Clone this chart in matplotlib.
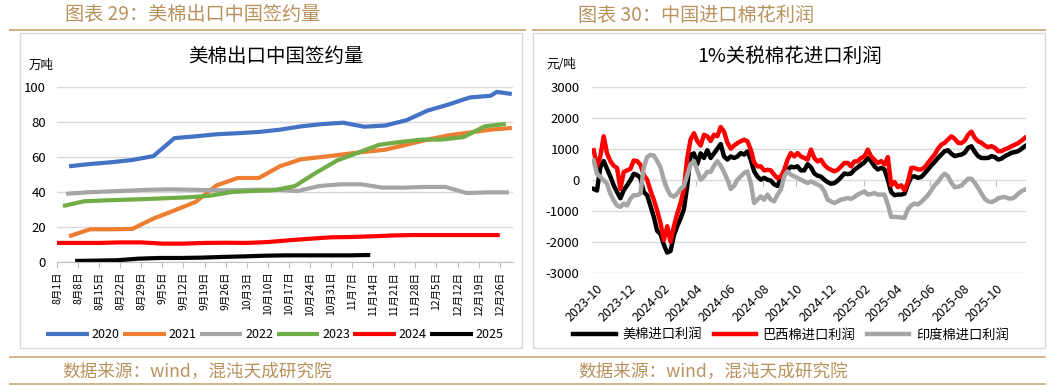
"""
Two report panels: US cotton export sales to China (weekly, by season)
and 1%-tariff cotton import profit (US / Brazil / India).
Writes out.png.
"""

import matplotlib
matplotlib.use("Agg")
import matplotlib.pyplot as plt
from matplotlib.lines import Line2D
from matplotlib.patches import Rectangle
import pandas as pd

plt.rcParams["font.family"] = ["Noto Sans CJK SC", "DejaVu Sans"]
plt.rcParams["axes.unicode_minus"] = False

W, H = 1052, 386
GOLD = "#b8925c"
GOLD_LINE = "#c9a877"
GRID = "#d9d9d9"

# ---- left panel: 万吨, x = days since 8月1日
WEEK_LABELS = ["8月1日", "8月8日", "8月15日", "8月22日", "8月29日", "9月5日",
               "9月12日", "9月19日", "9月26日", "10月3日", "10月10日", "10月17日",
               "10月24日", "10月31日", "11月7日", "11月14日", "11月21日", "11月28日",
               "12月5日", "12月12日", "12月19日", "12月26日"]
YEARS = ["2020", "2021", "2022", "2023", "2024", "2025"]
YEAR_COLORS = ["#4472c4", "#ed7d31", "#a5a5a5", "#70ad47", "#ff0000", "#000000"]

days_2020 = [4, 11, 18, 25, 32, 39, 46, 53, 60, 67, 74, 81, 88, 95, 102, 109,
             116, 123, 130, 137, 144, 146, 151]
vals_2020 = [54.7, 56, 57, 58.3, 60.5, 70.8, 71.8, 73, 73.6, 74.3, 75.6, 77.5,
             78.8, 79.6, 77.3, 78, 81, 86.5, 90, 94, 95, 97.2, 96]
days_2021 = [4, 11, 18, 25, 32, 39, 46, 53, 60, 67, 74, 81, 88, 95, 102, 109,
             116, 123, 130, 137, 144, 151]
vals_2021 = [14.7, 18.7, 18.7, 18.9, 24.8, 29.5, 34.3, 43.8, 48, 48, 54.7, 58.7,
             60, 61.5, 62.9, 64.2, 67, 69.9, 72.4, 74, 75.6, 76.6]
days_2022 = [3, 10, 17, 24, 31, 38, 45, 52, 59, 66, 73, 80, 87, 94, 101, 108,
             115, 122, 129, 136, 143, 150]
vals_2022 = [39, 39.8, 40.3, 40.8, 41.3, 41.5, 41.3, 41, 41, 41.3, 41.3, 40.6,
             43.4, 44.4, 44.4, 42.5, 42.5, 42.9, 42.9, 39.4, 39.8, 39.8]
days_2023 = [2, 9, 16, 23, 30, 37, 44, 51, 58, 65, 72, 79, 86, 93, 100, 107,
             114, 121, 128, 135, 142, 149]
vals_2023 = [32, 34.7, 35.2, 35.6, 36, 36.5, 37, 37.9, 40, 40.6, 41, 43.4,
             51, 58, 62.5, 67, 68.6, 69.9, 70, 71.4, 77.5, 78.9]
days_2024 = [0, 7, 14, 21, 28, 35, 42, 49, 56, 63, 70, 77, 84, 91, 98, 105,
             112, 119, 126, 133, 140, 147]
vals_2024 = [10.9, 10.9, 10.9, 11.2, 11.2, 10.5, 10.5, 10.9, 11, 10.9, 11.4, 12.4,
             13.3, 14.1, 14.3, 14.7, 15.2, 15.4, 15.4, 15.4, 15.4, 15.4]
days_2025 = [6, 13, 20, 27, 34, 41, 48, 55, 62, 69, 76, 83, 90, 97, 104]
vals_2025 = [0.6, 0.8, 1.0, 1.9, 2.3, 2.3, 2.5, 2.9, 3.2, 3.6, 3.8, 3.8, 3.8,
             3.8, 4.0]

# ---- right panel: 元/吨, samples read every ~6 days
profit_dates = pd.date_range("2023-10-05", "2025-11-30", periods=130)
PROFIT_NAMES = ["美棉进口利润", "巴西棉进口利润", "印度棉进口利润"]
PROFIT_COLORS = ["#000000", "#ff0000", "#a5a5a5"]
us_profit = [-300, -350, 400, 600, 350, 100, -180, -400, -600, -340,
             -180, -20, 190, 150, 50, -400, -500, -850, -1200, -1650,
             -1750, -2100, -2350, -2300, -1800, -1500, -1250, -950, -200, 800,
             850, 500, 850, 700, 950, 700, 850, 1000, 1150, 750,
             650, 750, 700,
             750, 860, 810, 915, 645, 270, 100, 0, 60, 0,
             -30, -150, -200, 50, 250, 320, 420, 400, 430, 300,
             300, 500, 400, 200, 130, 100, 0, -80, -130, -110,
             -30, 80, 200, 180, 200, 320, 400, 480, 560, 700,
             600, 430, 330, 380,
             330, 0, -400, -500, -480, -480, -450, -150, 90, 110,
             60, 90, 200, 330, 460, 570, 700, 810, 920, 950,
             840, 760, 790, 810, 870, 1030, 1080, 900, 760, 700,
             700, 700, 760, 730, 650, 680, 760, 810, 870, 890,
             920, 1000, 1080]
brazil_profit = [950, 450, 750, 1400, 850, 600, 450, 380, -300, 250,
                 300, 350, 620, 600, 480, 150, 0, -350, -650, -1000,
                 -1400, -1950, -1500, -2000, -1500, -1100, -750, -300, 700, 1300,
                 1500, 1250, 1100, 1450, 1400, 1250, 1450, 1400, 1700, 1550,
                 1200, 1000, 1100,
                 1180, 1240, 1290, 1240, 970, 560, 430, 430, 300, 320,
                 300, 160, 50, 100, 320, 645, 860, 750, 860, 750,
                 700, 645, 970, 700, 590, 645, 480, 375, 320, 270,
                 320, 430, 540, 540, 430, 590, 590, 700, 750, 970,
                 750, 645, 540, 600,
                 490, 730, -180, -75, -240, -180, -340, -75, 380, 380,
                 330, 330, 400, 540, 680, 810, 1000, 1130, 1190, 1300,
                 1400, 1320, 1190, 1180, 1260, 1450, 1550, 1350, 1240, 1190,
                 1100, 1050, 1080, 1030, 920, 920, 980, 1020, 1080, 1130,
                 1180, 1260, 1350]
india_profit = [620, 200, 90, -20, -130, -450, -670, -830, -880, -770,
                -830, -610, -500, -500, -450, 400, 730, 800, 780, 600,
                400, 0, -300, -500, -550, -450, -300, -200, 150, 500,
                600, 300, 0, 100, 250, 250, 450, 600, 450, 250,
                0, -300, -200,
                0, 108, 215, 270, -110, -750, -645, -540, -645, -480,
                -645, -700, -480, -320, 108, 270, 160, 108, 55, 0,
                -55, -110, -55, -110, -160, -215, -375, -645, -700, -750,
                -700, -645, -620, -590, -620, -560, -480, -430, -375, -480,
                -460, -430, -480, -480,
                -480, -800, -1200, -1200, -1210, -1220, -1230, -950, -830, -770,
                -800, -720, -610, -500, -340, -180, -75, 86, 190, 110,
                -100, -240, -230, -190, -80, 30, 30, -100, -260, -450,
                -620, -700, -720, -680, -600, -570, -560, -600, -610, -560,
                -450, -370, -320]
PROFIT_TICKS = pd.date_range("2023-10-09", periods=13, freq=pd.DateOffset(months=2))


def fx(px):
    return px / W


def fy(py):
    return 1 - py / H


fig = plt.figure(figsize=(W / 100, H / 100), dpi=100)

# page decoration: headers, frames, source lines
fig.text(fx(65), fy(15), "图表 29：美棉出口中国签约量", color=GOLD, fontsize=13.8, va="center")
fig.text(fx(578), fy(15), "图表 30：中国进口棉花利润", color=GOLD, fontsize=13.8, va="center")
for x0, x1 in [(10, 525), (533, 1045)]:
    fig.add_artist(Line2D([fx(x0), fx(x1)], [fy(29.5), fy(29.5)], color=GOLD_LINE, lw=1.3))
for x0, x1 in [(20, 522), (533, 1045)]:
    fig.add_artist(Rectangle((fx(x0), fy(348)), fx(x1 - x0), (348 - 33) / H,
                             fill=False, edgecolor=GRID, lw=1))
for y in (357, 384):
    fig.add_artist(Line2D([fx(10), fx(1045)], [fy(y), fy(y)], color=GOLD_LINE, lw=1.2))
fig.text(fx(62), fy(372), "数据来源：wind，混沌天成研究院", color=GOLD, fontsize=12.7, va="center")
fig.text(fx(578), fy(372), "数据来源：wind，混沌天成研究院", color=GOLD, fontsize=12.7, va="center")

# ---- left chart
ax1 = fig.add_axes([fx(57), fy(262), fx(513 - 57), (262 - 87) / H])
series = [(days_2020, vals_2020), (days_2021, vals_2021), (days_2022, vals_2022),
          (days_2023, vals_2023), (days_2024, vals_2024), (days_2025, vals_2025)]
for (d, v), name, c in zip(series, YEARS, YEAR_COLORS):
    ax1.plot(d, v, color=c, lw=3, label=name, solid_capstyle="butt")
ax1.set_xlim(0, 151.4)
ax1.set_ylim(0, 100)
ax1.set_yticks(range(0, 101, 20))
ax1.grid(axis="y", color=GRID, lw=1)
ax1.set_axisbelow(True)
ax1.set_xticks([7 * i for i in range(len(WEEK_LABELS))])
ax1.set_xticklabels(WEEK_LABELS, rotation=90, fontsize=7.5)
ax1.tick_params(axis="x", length=4, color="#bfbfbf", pad=3)
ax1.tick_params(axis="y", length=0, pad=8, labelsize=9.5)
for s in ("left", "right", "top"):
    ax1.spines[s].set_visible(False)
ax1.spines["bottom"].set_color("#bfbfbf")
fig.text(fx(276), fy(56), "美棉出口中国签约量", fontsize=14, ha="center", va="center")
fig.text(fx(41), fy(65), "万吨", fontsize=9, ha="center", va="center")
fig.legend(handles=ax1.get_lines(), labels=YEARS, loc="center", ncol=6,
           bbox_to_anchor=(fx(275), fy(335)), frameon=False, fontsize=9,
           handlelength=3.4, handletextpad=0.25, columnspacing=0.25)

# ---- right chart
ax2 = fig.add_axes([fx(592), fy(272.7), fx(1026 - 592), (272.7 - 86.7) / H])
for vals, name, c in zip([us_profit, brazil_profit, india_profit], PROFIT_NAMES, PROFIT_COLORS):
    ax2.plot(profit_dates, vals, color=c, lw=3.2, label=name)
ax2.set_xlim(pd.Timestamp("2023-10-02"), pd.Timestamp("2025-12-02"))
ax2.set_ylim(-3000, 3000)
ax2.set_yticks(range(-3000, 3001, 1000))
ax2.grid(axis="y", color=GRID, lw=1)
ax2.set_axisbelow(True)
ax2.set_xticks(PROFIT_TICKS)
ax2.set_xticklabels([t.strftime("%Y-%m") for t in PROFIT_TICKS], rotation=45,
                    ha="right", rotation_mode="anchor", fontsize=9)
ax2.tick_params(axis="x", length=0, pad=7)
ax2.tick_params(axis="y", length=0, pad=9, labelsize=9.5)
for s in ax2.spines.values():
    s.set_visible(False)
zero_axis = ax2.secondary_xaxis(0.4999)
zero_axis.set_xticks(PROFIT_TICKS)
zero_axis.set_xticklabels([])
zero_axis.tick_params(axis="x", length=4, color="#bfbfbf")
zero_axis.spines["bottom"].set_visible(False)
fig.text(fx(790), fy(56), "1%关税棉花进口利润", fontsize=14, ha="center", va="center")
fig.text(fx(561), fy(65), "元/吨", fontsize=9, ha="center", va="center")
fig.legend(handles=ax2.get_lines(), labels=PROFIT_NAMES, loc="center", ncol=3,
           bbox_to_anchor=(fx(791), fy(335)), frameon=False, fontsize=9.5,
           handlelength=3.2, handletextpad=0.5, columnspacing=0.9)

fig.savefig("out.png", dpi=100)
